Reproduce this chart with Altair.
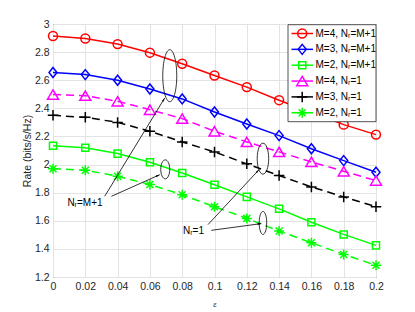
import math
import altair as alt
import pandas as pd

# ---------------- data ----------------
eps = [0, 0.02, 0.04, 0.06, 0.08, 0.10, 0.12, 0.14, 0.16, 0.18, 0.20]
m4_full = [2.915, 2.897, 2.857, 2.796, 2.717, 2.634, 2.551, 2.458, 2.370, 2.284, 2.213]
m3_full = [2.655, 2.640, 2.600, 2.538, 2.467, 2.374, 2.289, 2.206, 2.112, 2.028, 1.945]
m2_full = [2.134, 2.119, 2.078, 2.016, 1.940, 1.856, 1.770, 1.685, 1.590, 1.503, 1.425]
m4_one = [2.498, 2.490, 2.450, 2.390, 2.327, 2.237, 2.161, 2.090, 2.019, 1.952, 1.886]
m3_one = [2.350, 2.336, 2.300, 2.237, 2.161, 2.090, 2.005, 1.922, 1.841, 1.770, 1.700]
m2_one = [1.970, 1.960, 1.917, 1.858, 1.785, 1.700, 1.617, 1.527, 1.444, 1.360, 1.284]

labels = ["M=4, N\u1d63=M+1", "M=3, N\u1d63=M+1", "M=2, N\u1d63=M+1",
          "M=4, N\u1d63=1", "M=3, N\u1d63=1", "M=2, N\u1d63=1"]
series_vals = [m4_full, m3_full, m2_full, m4_one, m3_one, m2_one]
colors = ["#ff0000", "#0000ff", "#00ff00", "#ff00ff", "#000000", "#00ff00"]
dashed = [False, False, False, True, True, True]

x_ticks = eps
y_ticks = [1.2, 1.4, 1.6, 1.8, 2.0, 2.2, 2.4, 2.6, 2.8, 3.0]

# annotations (data coordinates)
ell_x = [0.0723, 0.0695, 0.1300, 0.1300]
ell_y = [2.632, 1.966, 2.042, 1.585]
ell_w = [14, 9, 11.5, 7.5]
ell_h = [52, 19, 31, 23]

arr_x1 = [0.0320, 0.0362, 0.0960, 0.0980]
arr_y1 = [1.774, 1.774, 1.573, 1.532]
arr_x2 = [0.0692, 0.0661, 0.1276, 0.1290]
arr_y2 = [2.474, 1.928, 1.964, 1.580]

note_text = ["N\u1d63=M+1", "N\u1d63=1"]
note_x = [0.0198, 0.0870]
note_y = [1.727, 1.525]

# ---------------- layout ----------------
W, H = 323, 253
FONT = "Liberation Sans"
AX = "#262626"

xs = alt.Scale(domain=[0, 0.2], nice=False)
ys = alt.Scale(domain=[1.2, 3.0], nice=False)

# marker shapes (custom paths in unit box)
circle = "circle"
diamond = "M0,-1L0.8,0L0,1L-0.8,0Z"
square = "square"
tri = "M0,-0.85L1,0.85L-1,0.85Z"
plus = "M-1,0L1,0M0,-1L0,1"
star = "M-1,0L1,0M0,-1L0,1M-0.7,-0.7L0.7,0.7M-0.7,0.7L0.7,-0.7"
shapes = [circle, diamond, square, tri, plus, star]
sizes = [80, 100, 50, 120, 110, 100]


def ellipse_path(ratio):
    k = 0.5523
    a = ratio
    return (f"M0,-1C{k*a:.4f},-1 {a:.4f},{-k:.4f} {a:.4f},0"
            f"C{a:.4f},{k:.4f} {k*a:.4f},1 0,1"
            f"C{-k*a:.4f},1 {-a:.4f},{k:.4f} {-a:.4f},0"
            f"C{-a:.4f},{-k:.4f} {-k*a:.4f},-1 0,-1Z")


def X(f="x"):
    return alt.X(f"{f}:Q", scale=xs,
                 axis=alt.Axis(values=x_ticks, format="~g", title="\u03b5",
                               titleFontSize=8, titleFontStyle="italic",
                               titlePadding=9, labelOverlap=False))


def Y(f="y"):
    return alt.Y(f"{f}:Q", scale=ys,
                 axis=alt.Axis(values=y_ticks, format="~g", title="Rate (bits/s/Hz)",
                               titlePadding=2, labelOverlap=False))


layers = []
for i, (lab, vals) in enumerate(zip(labels, series_vals)):
    df = pd.DataFrame({"x": eps, "y": vals})
    line_kw = dict(color=colors[i], strokeWidth=1.5)
    if dashed[i]:
        line_kw["strokeDash"] = [8, 5]
    base = alt.Chart(df)
    layers.append(base.mark_line(**line_kw).encode(x=X(), y=Y()))
    layers.append(base.mark_point(shape=shapes[i], size=sizes[i], filled=False,
                                  color=colors[i], strokeWidth=1.5, opacity=1)
                  .encode(x=X(), y=Y()))

# ellipses
ell_df = pd.DataFrame({
    "x": ell_x, "y": ell_y,
    "path": [ellipse_path(w / h) for w, h in zip(ell_w, ell_h)],
    "size": [h * h for h in ell_h],
})
layers.append(alt.Chart(ell_df).mark_point(filled=False, color="#000000", strokeWidth=0.8,
                                           opacity=1)
              .encode(x=X(), y=Y(), shape=alt.Shape("path:N", scale=None),
                      size=alt.Size("size:Q", scale=None)))

# arrows
sx = W / 0.2
sy = H / 1.8
angles = []
for x1, y1, x2, y2 in zip(arr_x1, arr_y1, arr_x2, arr_y2):
    dx = (x2 - x1) * sx
    dy = -(y2 - y1) * sy
    angles.append(math.degrees(math.atan2(dx, -dy)) % 360)
arr_df = pd.DataFrame({"x": arr_x1, "y": arr_y1, "x2": arr_x2, "y2": arr_y2,
                       "angle": angles})
layers.append(alt.Chart(arr_df).mark_rule(color="#000000", strokeWidth=0.8)
              .encode(x=X(), y=Y(), x2="x2:Q", y2="y2:Q"))
head = "M0,0L0.45,2L-0.45,2Z"
layers.append(alt.Chart(arr_df).mark_point(shape=head, size=16, filled=True,
                                           color="#000000", opacity=1)
              .encode(x=X("x2"), y=Y("y2"), angle=alt.Angle("angle:Q", scale=None)))

# notes
note_df = pd.DataFrame({"x": note_x, "y": note_y, "t": note_text})
layers.append(alt.Chart(note_df).mark_text(font=FONT, fontSize=10, color="#000000")
              .encode(x=X(), y=Y(), text="t:N"))

# legend
one = pd.DataFrame({"a": [0]})
layers.append(alt.Chart(one).mark_rect(fill="#ffffff", stroke=AX, strokeWidth=0.8)
              .encode(x=alt.value(235), x2=alt.value(W), y=alt.value(0.7), y2=alt.value(97.7)))
for i, lab in enumerate(labels):
    yy = 9.5 + 15.85 * i
    layers.append(alt.Chart(one).mark_rule(color=colors[i], strokeWidth=1.5)
                  .encode(x=alt.value(238.5), x2=alt.value(260), y=alt.value(yy)))
    layers.append(alt.Chart(one).mark_point(shape=shapes[i], size=sizes[i], filled=False,
                                            color=colors[i], strokeWidth=1.5, opacity=1)
                  .encode(x=alt.value(249.2), y=alt.value(yy)))
    layers.append(alt.Chart(one).mark_text(text=lab, font=FONT, fontSize=10, color="#000000",
                                           align="left", baseline="middle")
                  .encode(x=alt.value(262.5), y=alt.value(yy)))

chart = alt.layer(*layers).properties(
    width=W, height=H,
    autosize=alt.AutoSizeParams(type="none"),
    padding={"left": 45, "top": 16, "right": 30, "bottom": 40},
).configure_view(stroke=AX, strokeWidth=1).configure_axis(
    domain=False, ticks=False, grid=True, gridColor="#e3e3e3", gridWidth=1,
    labelFont=FONT, labelFontSize=10.5, labelColor=AX, labelPadding=4,
    labelOverlap=False, labelFlush=False, labelBound=False,
    titleFont=FONT, titleFontSize=10.5, titleColor=AX, titleFontWeight="normal",
)

chart.save("out.html", embed_options={"renderer": "svg", "actions": False})
